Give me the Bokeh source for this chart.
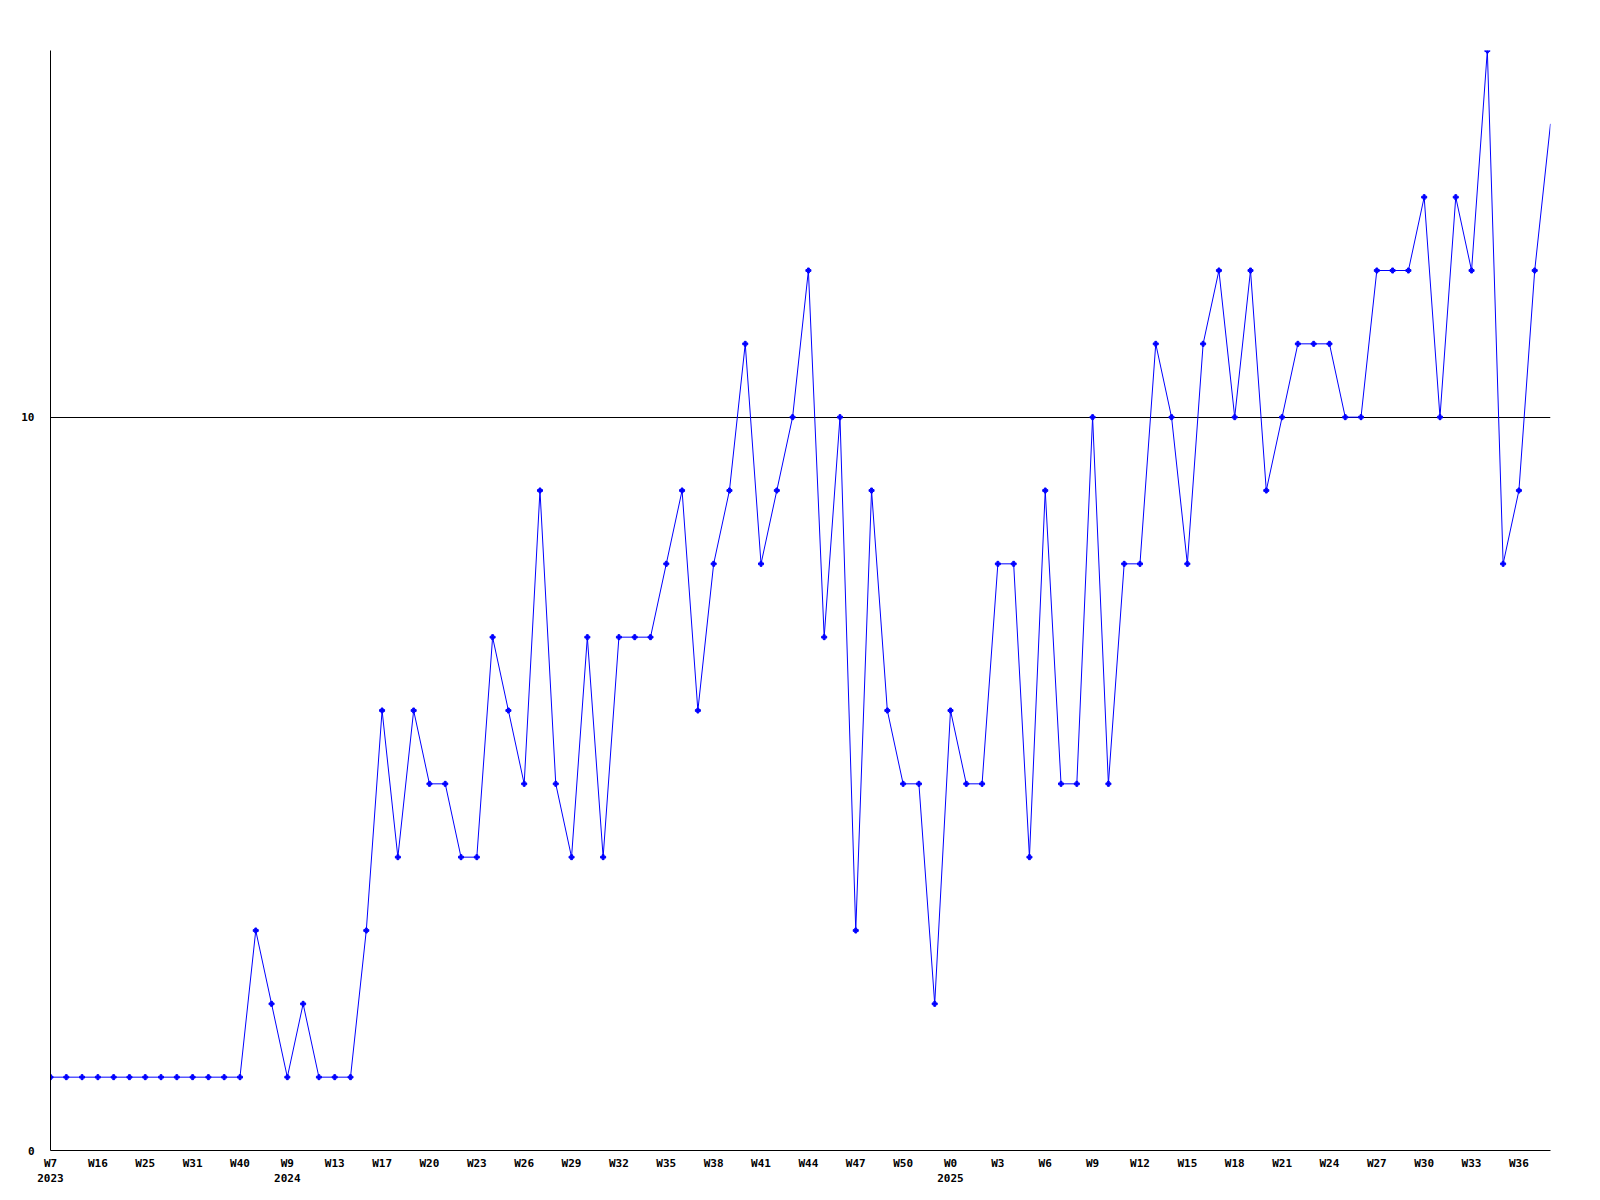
from bokeh.plotting import figure
from bokeh.models import Range1d, FixedTicker
from bokeh.embed import file_html
from bokeh.resources import INLINE

values = [1, 1, 1, 1, 1, 1, 1, 1, 1, 1, 1, 1, 1, 3, 2, 1, 2, 1, 1, 1,
          3, 6, 4, 6, 5, 5, 4, 4, 7, 6, 5, 9, 5, 4, 7, 4, 7, 7, 7, 8,
          9, 6, 8, 9, 11, 8, 9, 10, 12, 7, 10, 3, 9, 6, 5, 5, 2, 6, 5, 5,
          8, 8, 4, 9, 5, 5, 10, 5, 8, 8, 11, 10, 8, 11, 12, 10, 12, 9, 10, 11,
          11, 11, 10, 10, 12, 12, 12, 13, 10, 13, 12, 15, 8, 9, 12, 14]

tick_positions = [0, 3, 6, 9, 12, 15, 18, 21, 24, 27, 30, 33, 36, 39, 42, 45,
                  48, 51, 54, 57, 60, 63, 66, 69, 72, 75, 78, 81, 84, 87, 90, 93]
tick_texts = ["W7\n2023", "W16", "W25", "W31", "W40", "W9\n2024", "W13", "W17",
              "W20", "W23", "W26", "W29", "W32", "W35", "W38", "W41", "W44",
              "W47", "W50", "W0\n2025", "W3", "W6", "W9", "W12", "W15", "W18",
              "W21", "W24", "W27", "W30", "W33", "W36"]

y_ticks = [0, 10]

x = list(range(len(values)))

FONT = "DejaVu Sans Mono"

p = figure(output_backend="svg", toolbar_location=None,
           width=1592, height=1192,
           x_range=Range1d(0, len(values) - 1), y_range=Range1d(0, 15),
           min_border_left=50, min_border_right=42, min_border_top=50,
           min_border_bottom=42)
p.frame_width = 1500
p.frame_height = 1100
p.outline_line_color = None
p.background_fill_color = "white"

p.xgrid.visible = False
p.ygrid.ticker = FixedTicker(ticks=y_ticks)
p.ygrid.grid_line_color = "black"
p.ygrid.grid_line_alpha = 1.0
p.ygrid.grid_line_width = 1

p.xaxis.ticker = FixedTicker(ticks=tick_positions)
p.xaxis.major_label_overrides = {pos: t for pos, t in zip(tick_positions, tick_texts)}
p.yaxis.ticker = FixedTicker(ticks=y_ticks)

for ax in (p.xaxis[0], p.yaxis[0]):
    ax.axis_line_color = "black"
    ax.axis_line_width = 1
    ax.major_tick_line_color = None
    ax.minor_tick_line_color = None
    ax.major_tick_out = 0
    ax.major_tick_in = 0
    ax.minor_tick_out = 0
    ax.major_label_text_font = FONT
    ax.major_label_text_font_style = "bold"
    ax.major_label_text_font_size = "11px"
    ax.major_label_text_color = "black"

p.xaxis.major_label_standoff = 6
p.yaxis.major_label_standoff = 16

p.line(x, values, line_color="#0000ff", line_width=1)
p.scatter(x[:-1], values[:-1], marker="plus", size=5, color="#0000ff")

open("out.html", "w").write(file_html(p, INLINE))
